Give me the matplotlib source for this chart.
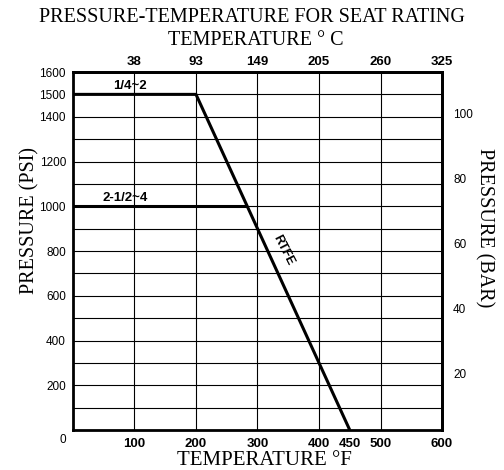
import matplotlib
matplotlib.use('Agg')
import matplotlib.pyplot as plt
import matplotlib.transforms as mtransforms
import numpy as np

# seat rating curves (temperature in F, pressure in psi)
small_temp = [0, 200, 450]
small_psi = [1500, 1500, 0]
large_temp = [0, 283]
large_psi = [1000, 1000]

x_ticks = [100, 200, 300, 400, 500, 600]
x_labels = ['100', '200', '300', '400', '500', '600']
c_labels = ['38', '93', '149', '205', '260', '325']
y_ticks = list(range(0, 1700, 100))
y_labels = ['0', '', '200', '', '400', '', '600', '', '800', '', '1000', '', '1200', '', '1400', '1500', '1600']
bar_ticks = [20, 40, 60, 80, 100]

PSI_PER_BAR = 14.5

serif = 'Liberation Serif'
sans = 'Liberation Sans'

fig = plt.figure(figsize=(5.04, 4.70), dpi=100)
ax = fig.add_axes([0.1448, 0.0851, 0.7322, 0.7617])

ax.plot(small_temp, small_psi, color='black', lw=2.2, solid_capstyle='butt')
ax.plot(large_temp, large_psi, color='black', lw=2.2, solid_capstyle='butt')

ax.set_xlim(0, 600)
ax.set_ylim(0, 1600)

ax.set_xticks(x_ticks)
ax.set_xticklabels(x_labels, fontfamily=sans, fontsize=9.5, fontweight='bold')
ax.set_xticks([450], minor=True)
ax.set_xticklabels(['450'], minor=True, fontfamily=sans, fontsize=9.5, fontweight='bold')
ax.set_yticks(y_ticks)
ax.set_yticklabels(y_labels, fontfamily=sans, fontsize=8.5)
ax.tick_params(axis='both', which='both', length=0)
ax.tick_params(axis='x', which='both', pad=6)
ax.tick_params(axis='y', pad=5)

ax.grid(True, which='major', color='black', lw=0.8)
for sp in ax.spines.values():
    sp.set_linewidth(2)

# top axis in Celsius
top = ax.secondary_xaxis('top')
top.set_xticks(x_ticks)
top.set_xticklabels(c_labels, fontfamily=sans, fontsize=9.5, fontweight='bold')
top.tick_params(length=0, pad=3)
top.spines['top'].set_linewidth(2)

# right axis in bar
right = ax.secondary_yaxis('right', functions=(lambda p: p / PSI_PER_BAR, lambda b: b * PSI_PER_BAR))
right.set_yticks(bar_ticks)
right.set_yticklabels([str(b) for b in bar_ticks], fontfamily=sans, fontsize=8.5)
right.tick_params(length=0, pad=8)
right.spines['right'].set_linewidth(2)
# labels sit a little below their lines in the original
shift = mtransforms.ScaledTranslation(0, -6 / 72, fig.dpi_scale_trans)
for t in right.yaxis.get_major_ticks():
    t.label2.set_transform(t.label2.get_transform() + shift)
zero_shift = mtransforms.ScaledTranslation(0, -6 / 72, fig.dpi_scale_trans)
t0 = ax.yaxis.get_major_ticks()[0]
t0.label1.set_transform(t0.label1.get_transform() + zero_shift)

# curve labels
ax.text(93, 1510, '1/4~2', fontfamily=sans, fontsize=9.5, fontweight='bold', ha='center', va='bottom')
ax.text(85, 1010, '2-1/2~4', fontfamily=sans, fontsize=9.5, fontweight='bold', ha='center', va='bottom')
ax.text(341, 805, 'RTFE', fontfamily=sans, fontsize=9, fontweight='bold', ha='center', va='center', rotation=-63)

# titles and axis labels
fig.text(0.5, 0.963, 'PRESSURE-TEMPERATURE FOR SEAT RATING', fontfamily=serif, fontsize=14.5, ha='center', va='center')
fig.text(0.508, 0.914, 'TEMPERATURE ° C', fontfamily=serif, fontsize=14.5, ha='center', va='center')
fig.text(0.524, 0.021, 'TEMPERATURE °F', fontfamily=serif, fontsize=15, ha='center', va='center')
fig.text(0.06, 0.53, 'PRESSURE (PSI)', fontfamily=serif, fontsize=14.5, ha='center', va='center', rotation=90)
fig.text(0.96, 0.515, 'PRESSURE (BAR)', fontfamily=serif, fontsize=14.5, ha='center', va='center', rotation=-90)

fig.savefig('out.png', dpi=100)
